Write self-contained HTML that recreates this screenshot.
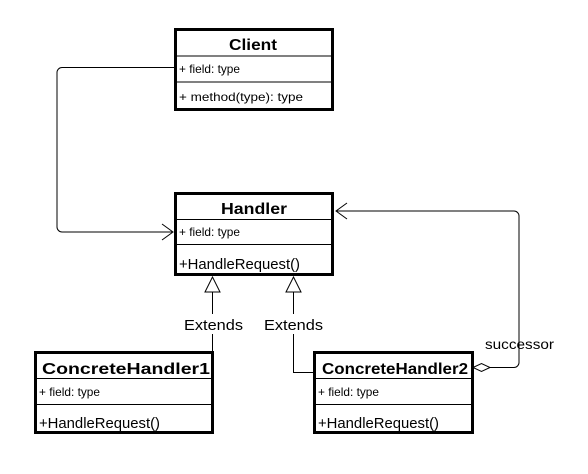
<!DOCTYPE html>
<html><head><style>body{margin:0;background:#fff}</style></head><body>
<svg width="588" height="469" xmlns="http://www.w3.org/2000/svg" font-family="Liberation Sans, sans-serif">
<rect width="588" height="469" fill="#fff"/>
<g fill="none" stroke="#000" stroke-width="1">
<path d="M174 67.5H62a5 5 0 0 0-5 5V227a5 5 0 0 0 5 5H172"/>
<path d="M162 224l11 8l-11 8"/>
<path d="M490 367.5H514a5 5 0 0 0 5-5V216a5 5 0 0 0-5-5H336"/>
<path d="M347 203l-11 8l11 8"/>
<path d="M473 367.5l8.5-4l8.5 4l-8.5 4z" fill="#fff"/>
<path d="M212.5 292V372.5H213"/>
<path d="M293.5 292V372.5H313"/>
<path d="M205 292l7.5-15l7.5 15z" fill="#fff"/>
<path d="M286 292l7.5-15l7.5 15z" fill="#fff"/>
</g>
<rect x="180" y="314" width="65" height="20" fill="#fff"/>
<rect x="262" y="314" width="63" height="20" fill="#fff"/>
<text x="184" y="330" font-size="15" textLength="59" lengthAdjust="spacingAndGlyphs">Extends</text>
<text x="264" y="330" font-size="15" textLength="59" lengthAdjust="spacingAndGlyphs">Extends</text>
<text x="485" y="349" font-size="14" textLength="69" lengthAdjust="spacingAndGlyphs">successor</text>
<g stroke="#000" fill="#fff">
<rect x="175.5" y="29.5" width="157" height="80" stroke-width="3"/>
<path d="M175 56H333M175 82H333" stroke-width="1"/>
<rect x="175.5" y="193.5" width="157" height="81" stroke-width="3"/>
<path d="M175 219.5H333M175 244.5H333" stroke-width="1"/>
<rect x="35.5" y="352.5" width="177" height="80" stroke-width="3"/>
<path d="M35 378.5H213M35 404.5H213" stroke-width="1"/>
<rect x="314.5" y="352.5" width="158" height="80" stroke-width="3"/>
<path d="M314 378.5H473M314 404.5H473" stroke-width="1"/>
</g>
<g font-size="12" lengthAdjust="spacingAndGlyphs">
<text x="179" y="73" textLength="61" lengthAdjust="spacingAndGlyphs">+ field: type</text>
<text x="179" y="101" textLength="124" lengthAdjust="spacingAndGlyphs">+ method(type): type</text>
<text x="179" y="236" textLength="61" lengthAdjust="spacingAndGlyphs">+ field: type</text>
<text x="39" y="396" textLength="61" lengthAdjust="spacingAndGlyphs">+ field: type</text>
<text x="318" y="396" textLength="61" lengthAdjust="spacingAndGlyphs">+ field: type</text>
</g>
<g font-size="15">
<text x="179" y="269" textLength="121" lengthAdjust="spacingAndGlyphs">+HandleRequest()</text>
<text x="39" y="428" textLength="121" lengthAdjust="spacingAndGlyphs">+HandleRequest()</text>
<text x="318" y="428" textLength="121" lengthAdjust="spacingAndGlyphs">+HandleRequest()</text>
</g>
<g font-size="16" font-weight="bold">
<text x="229" y="50" textLength="48" lengthAdjust="spacingAndGlyphs">Client</text>
<text x="221" y="214" textLength="66" lengthAdjust="spacingAndGlyphs">Handler</text>
<text x="42" y="374" textLength="168" lengthAdjust="spacingAndGlyphs">ConcreteHandler1</text>
<text x="322" y="374" textLength="146" lengthAdjust="spacingAndGlyphs">ConcreteHandler2</text>
</g>
</svg>
</body></html>
